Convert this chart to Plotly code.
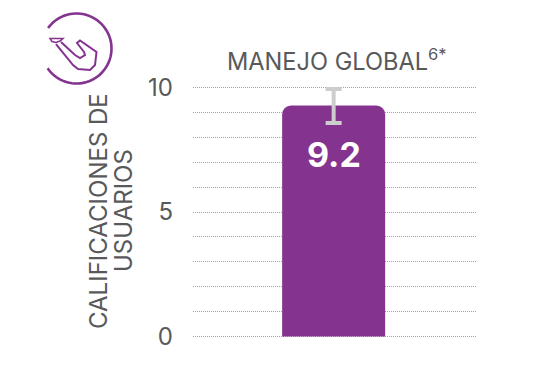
import math
import plotly.graph_objects as go

W, H = 535, 370
L, R, T, B = 193, 476, 85, 339

categories = ["MANEJO GLOBAL"]
bar_heights = [9.28]
value_labels = ["9.2"]
err_plus = [0.66]
err_minus = [0.71]
y_ticks = [0, 5, 10]
title_text = "MANEJO GLOBAL<sup>6*</sup>"
axis_title_lines = ["CALIFICACIONES DE", "USUARIOS"]

GREY = "#58595b"
PURPLE = "#84338f"
GRID = "#a3a3a3"
FONT = "Inter"

def px(x):
    return (x - L) / (R - L)

def py(y):
    return (B - y) / (B - T)

def path(points, close=False):
    s = "M " + " L ".join(f"{px(x):.4f},{py(y):.4f}" for x, y in points)
    return s + (" Z" if close else "")

fig = go.Figure(go.Bar(
    x=categories,
    y=bar_heights,
    width=0.364,
    marker=dict(color=PURPLE, line=dict(width=0)),
    error_y=dict(type="data", symmetric=False, array=err_plus, arrayminus=err_minus,
                 color="#cdcdcd", thickness=4, width=8),
    hoverinfo="skip",
))

# icon: open ring plus contact-lens hook outline (decoration in pixel positions)
cx, cy, r = 76.5, 48.5, 35
a0, a1 = math.atan2(28 - cy, 48 - cx), math.atan2(68 - cy, 48 - cx)
ring = [(cx + r * math.cos(a0 + (a1 - a0) * i / 72), cy + r * math.sin(a0 + (a1 - a0) * i / 72))
        for i in range(73)]
hook = [(56, 44), (73, 65), (78, 69), (90, 70), (95, 65), (96.5, 52), (80, 40.5),
        (77, 43), (84, 52), (85, 55), (80, 58), (75, 55), (61, 42)]
lens = [(50, 38.5), (63, 38.5), (60, 41), (56, 42.5), (52, 41.5)]

shapes = [
    dict(type="path", xref="paper", yref="paper", path=path(ring),
         line=dict(color=PURPLE, width=2.6), layer="above"),
    dict(type="path", xref="paper", yref="paper", path=path(hook),
         line=dict(color=PURPLE, width=2), layer="above"),
    dict(type="path", xref="paper", yref="paper", path=path(lens, True),
         line=dict(color=PURPLE, width=1.5), fillcolor="#ffffff", layer="above"),
]

annotations = [
    dict(x=categories[0], y=7.3, xref="x", yref="y", text=value_labels[0],
         showarrow=False, font=dict(family=FONT, size=34, color="white", weight=700),
         xanchor="center", yanchor="middle"),
    dict(x=px(337), y=py(60), xref="paper", yref="paper", text=title_text,
         showarrow=False, font=dict(family=FONT, size=23.6, color=GREY),
         xanchor="center", yanchor="middle"),
    dict(x=px(98), y=py(211), xref="paper", yref="paper", text=axis_title_lines[0],
         showarrow=False, textangle=-90, font=dict(family=FONT, size=24, color=GREY),
         xanchor="center", yanchor="middle"),
    dict(x=px(123), y=py(211), xref="paper", yref="paper", text=axis_title_lines[1],
         showarrow=False, textangle=-90, font=dict(family=FONT, size=24, color=GREY),
         xanchor="center", yanchor="middle"),
]

fig.update_layout(
    width=W, height=H,
    margin=dict(l=L, r=W - R, t=T, b=H - B, pad=0, autoexpand=False),
    paper_bgcolor="white", plot_bgcolor="white",
    barcornerradius=9,
    showlegend=False,
    shapes=shapes,
    annotations=annotations,
    font=dict(family=FONT, color=GREY),
)
fig.update_xaxes(range=[-0.497, 0.503], showticklabels=False, showgrid=False,
                 zeroline=False, showline=False, ticks="")
fig.update_yaxes(
    range=[-0.1, 10.1], tickmode="array", tickvals=y_ticks,
    showgrid=True, gridcolor=GRID, griddash="1px,1px", gridwidth=1,
    minor=dict(dtick=1, showgrid=True, gridcolor=GRID, griddash="1px,1px", gridwidth=1, ticks=""),
    zeroline=False, showline=False, ticks="",
    ticklabelstandoff=19,
    tickfont=dict(family=FONT, size=24, color=GREY),
)
fig.write_html("out.html", post_script="document.body.style.margin='0';",
               config={"displayModeBar": False})
